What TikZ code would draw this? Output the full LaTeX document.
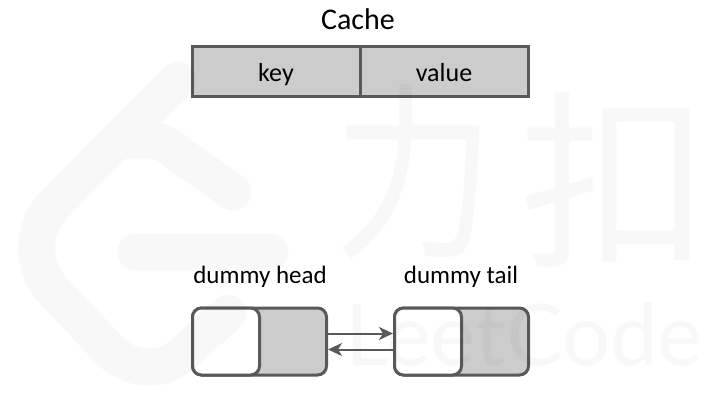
\documentclass[tikz,border=0pt]{standalone}
\usepackage{fontspec}
\setmainfont{Carlito}
\newfontfamily\cjkwm{Noto Sans CJK SC}
\newfontfamily\latinwm{Lato}
\usetikzlibrary{arrows.meta}
\definecolor{edgegray}{HTML}{595959}
\definecolor{cellgray}{HTML}{CCCCCC}
\tikzset{
  wmstroke/.style={draw=black,line width=37pt,line cap=round,line join=round},
  wmtext/.style={text=black,inner sep=0pt},
  cell/.style={draw=edgegray,fill=cellgray,line width=3pt,minimum height=50pt,inner sep=0pt,font=\fontsize{26}{26}\selectfont,text=black,text height=20pt,text depth=0pt},
  roundbox/.style={draw=edgegray,line width=3pt,rounded corners=9pt,minimum height=67pt,inner sep=0pt},
  caption/.style={font=\fontsize{25}{25}\selectfont,text=black,inner sep=0pt,anchor=base},
  linkarrow/.style={draw=edgegray,line width=2pt,-{Stealth[length=14pt,width=13pt,inset=4pt]}}
}
\begin{document}
\begin{tikzpicture}[x=1pt,y=-1pt]
\useasboundingbox (0,0) rectangle (720,418);
% cache table
\node[cell,minimum width=168pt] (keycell) at (276,71.5) {key};
\node[cell,minimum width=168pt] (valuecell) at (444,71.5) {value};
\node[caption,font=\fontsize{30}{30}\selectfont] (cachelabel) at (358,29) {Cache};
% dummy head
\node[roundbox,fill=cellgray,minimum width=134pt] (headbox) at (259.5,341.5) {};
\node[roundbox,fill=white,minimum width=67pt] (headleft) at (226,341.5) {};
\node[caption] (headlabel) at (260,283) {dummy head};
% dummy tail
\node[roundbox,fill=cellgray,minimum width=134pt] (tailbox) at (461.5,341.5) {};
\node[roundbox,fill=white,minimum width=67pt] (tailleft) at (428,341.5) {};
\node[caption] (taillabel) at (461,283) {dummy tail};
% links
\draw[linkarrow] ([yshift=8pt]headbox.east) -- ([yshift=8pt]tailbox.west);
\draw[linkarrow] ([yshift=-8pt]tailbox.west) -- ([yshift=-8pt]headbox.east);
% watermark, laid faintly over everything
\begin{scope}[transparency group,opacity=0.027]
\draw[wmstroke] (178,80) -- (52,207) .. controls (32,230) and (32,265) .. (50,287) -- (112,353) .. controls (135,372) and (165,372) .. (185,352) -- (228,313);
\draw[wmstroke] (125,140) -- (147,140) .. controls (160,140) and (170,145) .. (180,155) -- (233,192);
\draw[wmstroke] (136,252) -- (270,252);
\node[wmtext,font=\fontsize{190}{190}\cjkwm,transform shape,xscale=.85] (wmli) at (414,172) {力};
\node[wmtext,font=\fontsize{190}{190}\cjkwm] (wmkou) at (614,180) {扣};
\node[wmtext,font=\fontsize{85}{85}\latinwm] (wmcode) at (524,335) {LeetCode};
\end{scope}
\end{tikzpicture}
\end{document}
